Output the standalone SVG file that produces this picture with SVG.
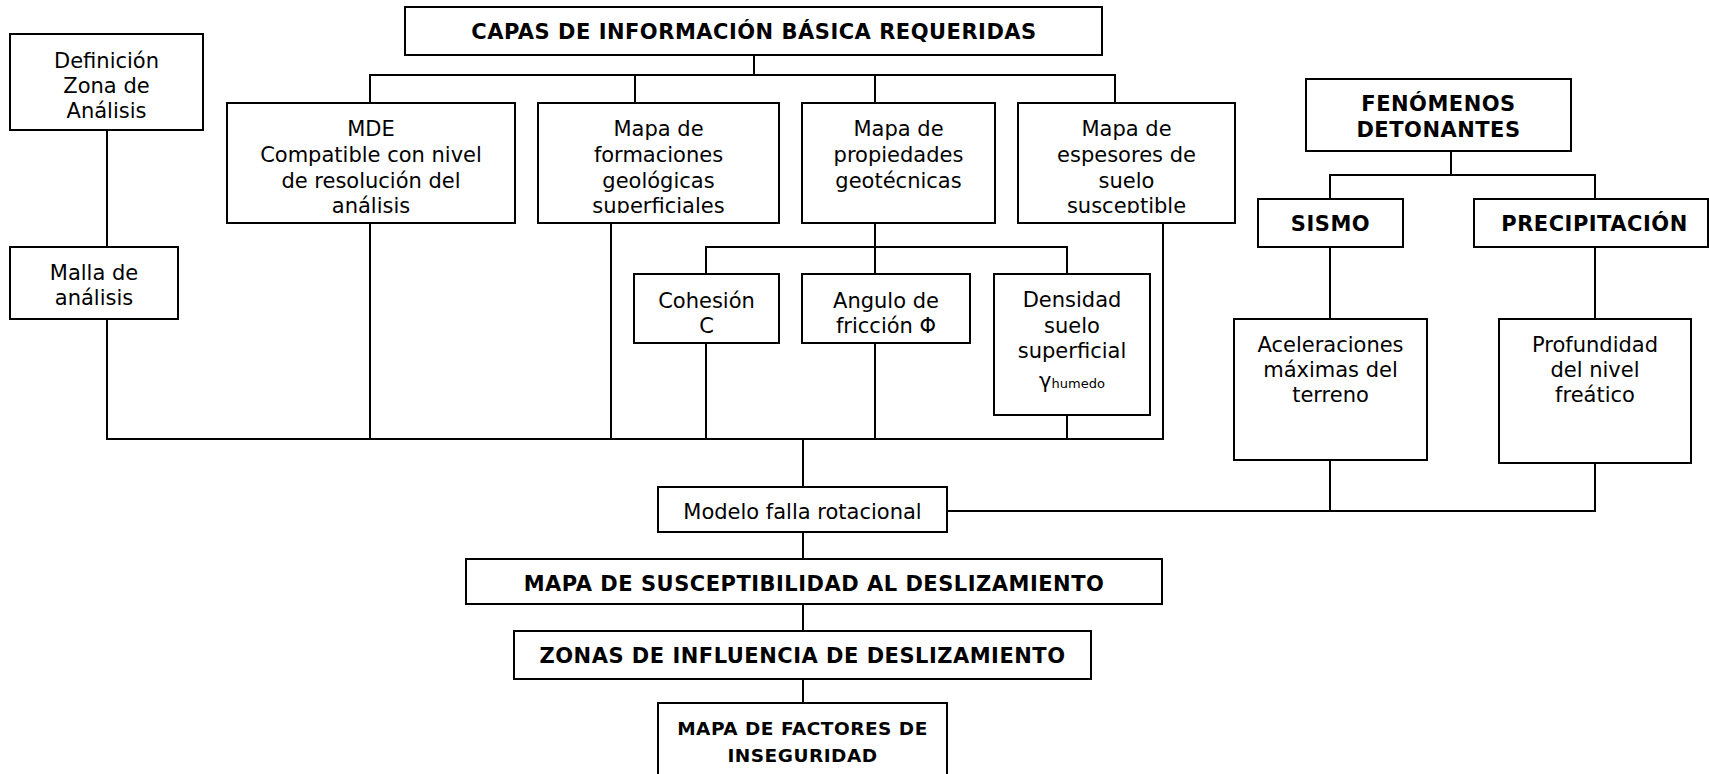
<svg xmlns="http://www.w3.org/2000/svg" width="1709" height="774" viewBox="0 0 1709 774">
<style>
.b{fill:#fff;stroke:#000;stroke-width:2}
.t{font-family:"DejaVu Sans",Verdana,sans-serif;font-size:21px;fill:#000;text-anchor:middle}
.h{font-family:"DejaVu Sans",Verdana,sans-serif;font-size:21px;font-weight:bold;letter-spacing:0.5px;fill:#000;text-anchor:middle}
.c line{stroke:#000;stroke-width:2}
</style>
<defs>
<clipPath id="clipF"><rect x="538" y="103" width="241" height="110"/></clipPath>
<clipPath id="clipE"><rect x="1018" y="103" width="217" height="110"/></clipPath>
</defs>
<rect width="1709" height="774" fill="#fff"/>
<g class="c" id="connectors">
<line x1="754" y1="55" x2="754" y2="75"/>
<line x1="369" y1="75" x2="1116" y2="75"/>
<line x1="370" y1="75" x2="370" y2="103"/>
<line x1="635" y1="75" x2="635" y2="103"/>
<line x1="875" y1="75" x2="875" y2="103"/>
<line x1="1115" y1="75" x2="1115" y2="103"/>
<line x1="107" y1="130" x2="107" y2="247"/>
<line x1="107" y1="319" x2="107" y2="439"/>
<line x1="106" y1="439" x2="1164" y2="439"/>
<line x1="370" y1="223" x2="370" y2="439"/>
<line x1="611" y1="223" x2="611" y2="439"/>
<line x1="875" y1="223" x2="875" y2="274"/>
<line x1="705" y1="247" x2="1068" y2="247"/>
<line x1="706" y1="247" x2="706" y2="274"/>
<line x1="1067" y1="247" x2="1067" y2="274"/>
<line x1="706" y1="343" x2="706" y2="439"/>
<line x1="875" y1="343" x2="875" y2="439"/>
<line x1="1067" y1="415" x2="1067" y2="439"/>
<line x1="1163" y1="223" x2="1163" y2="439"/>
<line x1="803" y1="439" x2="803" y2="487"/>
<line x1="947" y1="511" x2="1596" y2="511"/>
<line x1="1330" y1="460" x2="1330" y2="511"/>
<line x1="1595" y1="463" x2="1595" y2="511"/>
<line x1="1451" y1="151" x2="1451" y2="175"/>
<line x1="1329" y1="175" x2="1596" y2="175"/>
<line x1="1330" y1="175" x2="1330" y2="199"/>
<line x1="1595" y1="175" x2="1595" y2="199"/>
<line x1="1330" y1="247" x2="1330" y2="319"/>
<line x1="1595" y1="247" x2="1595" y2="319"/>
<line x1="803" y1="532" x2="803" y2="559"/>
<line x1="803" y1="604" x2="803" y2="631"/>
<line x1="803" y1="679" x2="803" y2="703"/>
</g>
<g id="capas"><rect class="b" x="405" y="7" width="697" height="48"/><text class="h" x="754" y="38.5">CAPAS DE INFORMACIÓN BÁSICA REQUERIDAS</text></g>
<g id="definicion"><rect class="b" x="10" y="34" width="193" height="96"/><text class="t" x="106.5" y="68">Definición</text><text class="t" x="106.5" y="93">Zona de</text><text class="t" x="106.5" y="118">Análisis</text></g>
<g id="malla"><rect class="b" x="10" y="247" width="168" height="72"/><text class="t" x="94" y="280">Malla de</text><text class="t" x="94" y="305">análisis</text></g>
<g id="mde"><rect class="b" x="227" y="103" width="288" height="120"/><text class="t" x="371" y="136">MDE</text><text class="t" x="371" y="162">Compatible con nivel</text><text class="t" x="371" y="188">de resolución del</text><text class="t" x="371" y="213">análisis</text></g>
<g id="formaciones"><rect class="b" x="538" y="103" width="241" height="120"/><g clip-path="url(#clipF)"><text class="t" x="658.5" y="136">Mapa de</text><text class="t" x="658.5" y="162">formaciones</text><text class="t" x="658.5" y="188">geológicas</text><text class="t" x="658.5" y="213">superficiales</text></g></g>
<g id="propiedades"><rect class="b" x="802" y="103" width="193" height="120"/><text class="t" x="898.5" y="136">Mapa de</text><text class="t" x="898.5" y="162">propiedades</text><text class="t" x="898.5" y="188">geotécnicas</text></g>
<g id="espesores"><rect class="b" x="1018" y="103" width="217" height="120"/><g clip-path="url(#clipE)"><text class="t" x="1126.5" y="136">Mapa de</text><text class="t" x="1126.5" y="162">espesores de</text><text class="t" x="1126.5" y="188">suelo</text><text class="t" x="1126.5" y="213">susceptible</text></g></g>
<g id="cohesion"><rect class="b" x="634" y="274" width="145" height="69"/><text class="t" x="706.5" y="308">Cohesión</text><text class="t" x="706.5" y="333">C</text></g>
<g id="angulo"><rect class="b" x="802" y="274" width="168" height="69"/><text class="t" x="886" y="308">Angulo de</text><text class="t" x="886" y="333">fricción Φ</text></g>
<g id="densidad"><rect class="b" x="994" y="274" width="156" height="141"/><text class="t" x="1072" y="307">Densidad</text><text class="t" x="1072" y="333">suelo</text><text class="t" x="1072" y="358">superficial</text><text class="t" x="1072" y="388">γ<tspan font-size="13">humedo</tspan></text></g>
<g id="fenomenos"><rect class="b" x="1306" y="79" width="265" height="72"/><text class="h" x="1438.5" y="110.5">FENÓMENOS</text><text class="h" x="1438.5" y="136.5">DETONANTES</text></g>
<g id="sismo"><rect class="b" x="1258" y="199" width="145" height="48"/><text class="h" x="1330.5" y="230.5">SISMO</text></g>
<g id="precipitacion"><rect class="b" x="1474" y="199" width="234" height="48"/><text class="h" x="1594.5" y="230.5">PRECIPITACIÓN</text></g>
<g id="aceleraciones"><rect class="b" x="1234" y="319" width="193" height="141"/><text class="t" x="1330.5" y="352">Aceleraciones</text><text class="t" x="1330.5" y="377">máximas del</text><text class="t" x="1330.5" y="402">terreno</text></g>
<g id="profundidad"><rect class="b" x="1499" y="319" width="192" height="144"/><text class="t" x="1595" y="352">Profundidad</text><text class="t" x="1595" y="377">del nivel</text><text class="t" x="1595" y="402">freático</text></g>
<g id="modelo"><rect class="b" x="658" y="487" width="289" height="45"/><text class="t" x="802.5" y="519">Modelo falla rotacional</text></g>
<g id="susceptibilidad"><rect class="b" x="466" y="559" width="696" height="45"/><text class="h" x="814" y="590.5">MAPA DE SUSCEPTIBILIDAD AL DESLIZAMIENTO</text></g>
<g id="zonas"><rect class="b" x="514" y="631" width="577" height="48"/><text class="h" x="802.5" y="662.5">ZONAS DE INFLUENCIA DE DESLIZAMIENTO</text></g>
<g id="factores"><rect class="b" x="658" y="703" width="289" height="80"/><text class="h" x="802.5" y="734.5" style="font-size:18.5px">MAPA DE FACTORES DE</text><text class="h" x="802.5" y="761.5" style="font-size:18.5px">INSEGURIDAD</text></g>
</svg>
